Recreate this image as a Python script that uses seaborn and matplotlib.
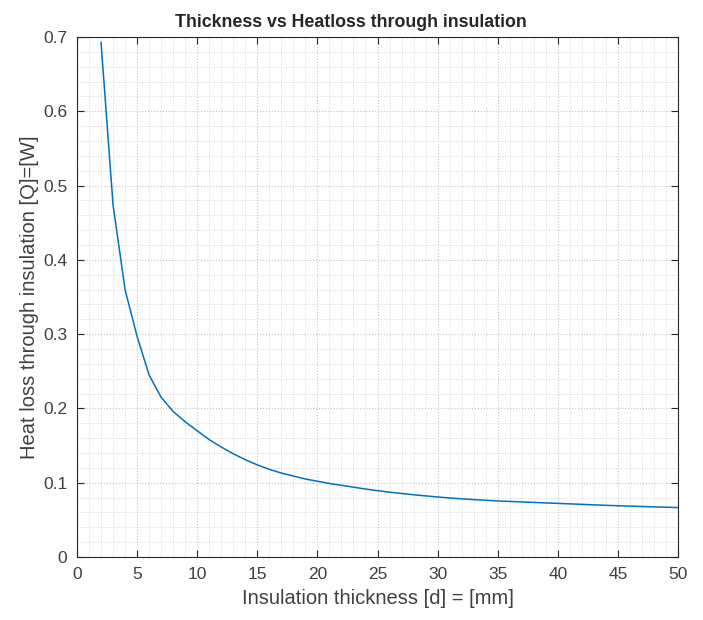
import numpy as np
import pandas as pd
import matplotlib
matplotlib.use("Agg")
import matplotlib.pyplot as plt
from matplotlib.ticker import MultipleLocator, FuncFormatter
import seaborn as sns

# insulation thickness [mm] and heat loss [W]
thickness = [2, 3, 4, 5, 6, 7, 8, 9, 10, 11, 12, 13, 14, 15, 16, 17, 18, 19, 20,
             21, 22, 23, 24, 25, 26, 27, 28, 29, 30, 31, 32, 33, 34, 35, 36, 37,
             38, 39, 40, 41, 42, 43, 44, 45, 46, 47, 48, 49, 50]
heatloss = [0.693, 0.474, 0.360, 0.297, 0.245, 0.215, 0.196, 0.182, 0.170, 0.158,
            0.148, 0.139, 0.131, 0.124, 0.118, 0.113, 0.109, 0.105, 0.102,
            0.099, 0.0965, 0.094, 0.0915, 0.0893, 0.0873, 0.0855, 0.0838, 0.0823,
            0.0808, 0.0795, 0.0783, 0.0773, 0.0764, 0.0755, 0.0748, 0.0741, 0.0735,
            0.0728, 0.0722, 0.0715, 0.0709, 0.0702, 0.0696, 0.0690, 0.0685, 0.0680,
            0.0675, 0.0670, 0.0665]

df = pd.DataFrame({"d": thickness, "Q": heatloss})

sns.set_style("ticks")
plt.rcParams['font.family'] = ['Liberation Sans', 'DejaVu Sans']

fig = plt.figure(figsize=(7.03, 6.2), dpi=100)
ax = fig.add_axes([0.1095, 0.1016, 0.855, 0.8387])

sns.lineplot(data=df, x="d", y="Q", ax=ax, color="#0072BD", linewidth=1.1)

ax.set_xlim(0, 50)
ax.set_ylim(0, 0.7)
ax.xaxis.set_major_locator(MultipleLocator(5))
ax.xaxis.set_minor_locator(MultipleLocator(1))
ax.yaxis.set_major_locator(MultipleLocator(0.1))
ax.yaxis.set_minor_locator(MultipleLocator(0.02))
ax.yaxis.set_major_formatter(FuncFormatter(lambda v, p: "0" if abs(v) < 1e-9 else "%.1f" % v))

ax.grid(which="major", linestyle=":", color="#c4c4c4", linewidth=0.8)
ax.grid(which="minor", linestyle=":", color="#d8d8d8", linewidth=0.7)
ax.set_axisbelow(True)

for s in ax.spines.values():
    s.set_color("#262626")
    s.set_linewidth(0.8)
ax.tick_params(which="major", direction="in", length=5, top=True, right=True,
               labelsize=12.5, labelcolor="#404040", color="#262626", pad=7)
ax.tick_params(which="minor", length=0)

ax.set_xlabel("Insulation thickness [d] = [mm]", fontsize=14.5, color="#404040", labelpad=5)
ax.set_ylabel("Heat loss through insulation [Q]=[W]", fontsize=14.5, color="#404040", labelpad=3)
ax.set_title("Thickness vs Heatloss through insulation", fontsize=12.8, fontweight="bold",
             pad=7, x=0.456)

fig.savefig("out.png", dpi=100)
